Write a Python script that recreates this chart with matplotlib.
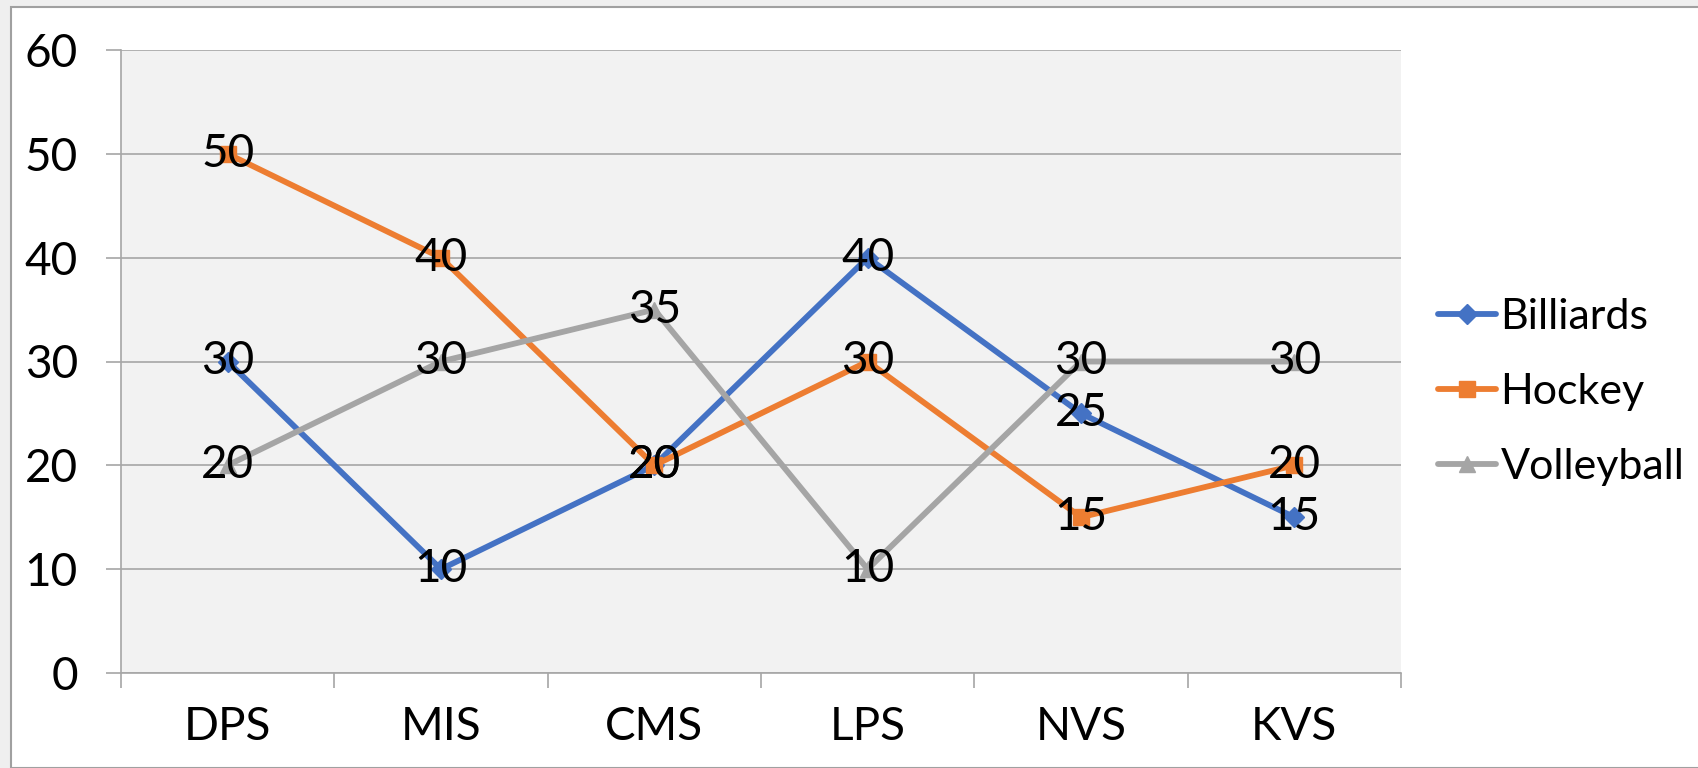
import matplotlib.pyplot as plt
from matplotlib.patches import Rectangle
import numpy as np

plt.rcParams['font.family'] = ['Lato', 'DejaVu Sans']

schools = ["DPS", "MIS", "CMS", "LPS", "NVS", "KVS"]
billiards = [30, 10, 20, 40, 25, 15]
hockey = [50, 40, 20, 30, 15, 20]
volleyball = [20, 30, 35, 10, 30, 30]

series = [
    ("Billiards", billiards, "#4472C4", "D", 10),
    ("Hockey", hockey, "#ED7D31", "s", 11),
    ("Volleyball", volleyball, "#A5A5A5", "^", 12),
]

fig = plt.figure(figsize=(16.99, 7.68), dpi=100, facecolor="#EFEFEF")
# white chart area with thin border, behind the axes
fig.patches.append(Rectangle((11 / 1699, 0), 1.0, 1 - 7 / 768,
                             transform=fig.transFigure, facecolor="white",
                             edgecolor="#A0A0A0", linewidth=1.5, zorder=-1))

ax = fig.add_axes([121 / 1699, 95 / 768, 1280 / 1699, 623 / 768])
ax.set_facecolor("#F2F2F2")

x = np.arange(len(schools))
for name, vals, color, marker, ms in series:
    ax.plot(x, vals, color=color, lw=4.2, marker=marker, ms=ms,
            label=name, solid_capstyle="round", zorder=3)
    for xi, v in zip(x, vals):
        ax.text(xi, v, str(v), ha="center", va="center", fontsize=33,
                color="black", zorder=5)

ax.set_xlim(-0.5, len(schools) - 0.5)
ax.set_ylim(0, 60)
ax.set_yticks(range(0, 61, 10))
ax.yaxis.grid(True, color="#A6A6A6", lw=1.2)
ax.set_axisbelow(True)

ax.set_xticks(x)
ax.set_xticklabels(schools)
ax.set_xticks(np.arange(-0.5, len(schools)), minor=True)
ax.tick_params(axis="x", which="major", length=0, pad=24, labelsize=33)
ax.tick_params(axis="x", which="minor", length=11, color="#A6A6A6", width=1.2)
ax.tick_params(axis="y", length=11, color="#A6A6A6", width=1.2, pad=20,
               labelsize=33)

for side in ["top", "right"]:
    ax.spines[side].set_visible(False)
for side in ["left", "bottom"]:
    ax.spines[side].set_color("#A6A6A6")
    ax.spines[side].set_linewidth(1.2)

# legend centred on the middle row (~392 px from the top)
leg = ax.legend(loc="center left",
                bbox_to_anchor=(1438 / 1699, 1 - 392 / 768),
                bbox_transform=fig.transFigure, frameon=False, fontsize=31,
                handlelength=1.35, handletextpad=0.1, labelspacing=0.85,
                borderaxespad=0, borderpad=0)

fig.savefig("out.png", dpi=100, facecolor=fig.get_facecolor())
